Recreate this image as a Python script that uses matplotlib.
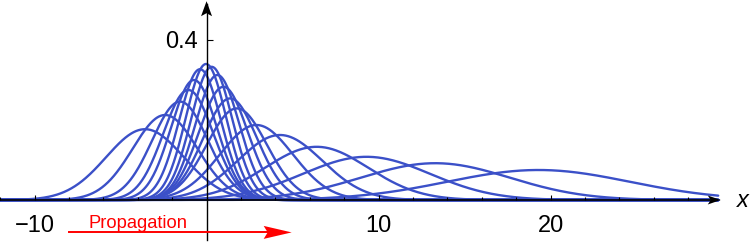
import numpy as np
import matplotlib
matplotlib.use("Agg")
import matplotlib.pyplot as plt
from matplotlib.patches import Polygon
from matplotlib.transforms import IdentityTransform

plt.rcParams['font.family'] = ['Liberation Sans', 'DejaVu Sans']

# peak position and peak height of each pulse
centers = [-3.58, -2.41, -1.54, -1.06, -0.73, -0.38, -0.03,
           0.30, 0.63, 0.98, 1.37, 1.76, 2.90, 4.27, 6.40, 9.30, 13.3, 19.3]
heights = [0.177, 0.2125, 0.246, 0.275, 0.300, 0.327, 0.340,
           0.333, 0.3125, 0.283, 0.254, 0.229, 0.1875, 0.1625, 0.133, 0.108, 0.092, 0.075]

xtick_major = [-10, 10, 20]
xtick_labels = ['\u221210', '10', '20']
xtick_minor = [-12, -8, -6, -4, -2, 2, 4, 6, 8, 12, 14, 16, 18, 22, 24, 26, 28]
ytick = 0.4

blue = '#3b50c8'

fig = plt.figure(figsize=(7.5, 2.42), dpi=100)
ax = fig.add_axes([0, 0, 1, 1])
ax.set_xlim(-12.01, 31.6)
ax.set_ylim(-0.105, 0.5)
ax.axis('off')

x = np.linspace(-12, 29.75, 1200)
for c, h in zip(centers, heights):
    s = 1.0 / (np.sqrt(2 * np.pi) * h)
    ax.plot(x, h * np.exp(-0.5 * ((x - c) / s) ** 2), color=blue, lw=1.7,
            solid_capstyle='round', zorder=3)

fig.canvas.draw()


def head(tip, direction, length, half_w, notch, color):
    # arrow head drawn in pixel space so it keeps its shape
    tx, ty = ax.transData.transform(tip)
    dx, dy = direction
    px, py = -dy, dx
    bx, by = tx - dx * length, ty - dy * length
    pts = [(tx, ty),
           (bx + px * half_w, by + py * half_w),
           (tx - dx * (length - notch), ty - dy * (length - notch)),
           (bx - px * half_w, by - py * half_w)]
    ax.add_patch(Polygon(pts, closed=True, color=color, lw=0,
                         transform=IdentityTransform(), zorder=5))


# axes lines
ax.plot([-12.01, 29.4], [0, 0], color='black', lw=1.2, zorder=4)
ax.plot([0, 0], [-0.1, 0.49], color='black', lw=1.0, zorder=4)
head((29.9, 0), (1, 0), 13, 4.5, 3, 'black')
head((0, 0.497), (0, 1), 15, 5.5, 3, 'black')

# ticks
ax.vlines(xtick_minor, 0, 0.0085, color='black', lw=0.8, zorder=4)
ax.vlines(xtick_major, 0, 0.0125, color='black', lw=0.8, zorder=4)
ax.hlines(ytick, 0, 0.35, color='black', lw=0.8, zorder=4)

for v, lab in zip(xtick_major, xtick_labels):
    ax.text(v, -0.079, lab, ha='center', va='baseline', fontsize=17)
ax.text(-0.49, 0.379, '0.4', ha='right', va='baseline', fontsize=17)
ax.text(31.2, -0.0175, 'x', ha='center', va='baseline', fontsize=17,
        style='italic')

# propagation arrow
ax.text(-4.0, -0.0708, 'Propagation', color='red', ha='center',
        va='baseline', fontsize=13.2)
ax.plot([-8.0, 3.8], [-0.081, -0.081], color='red', lw=1.4, zorder=4)
head((4.95, -0.081), (1, 0), 28, 6.5, 4, 'red')

fig.savefig('out.png', dpi=100)
